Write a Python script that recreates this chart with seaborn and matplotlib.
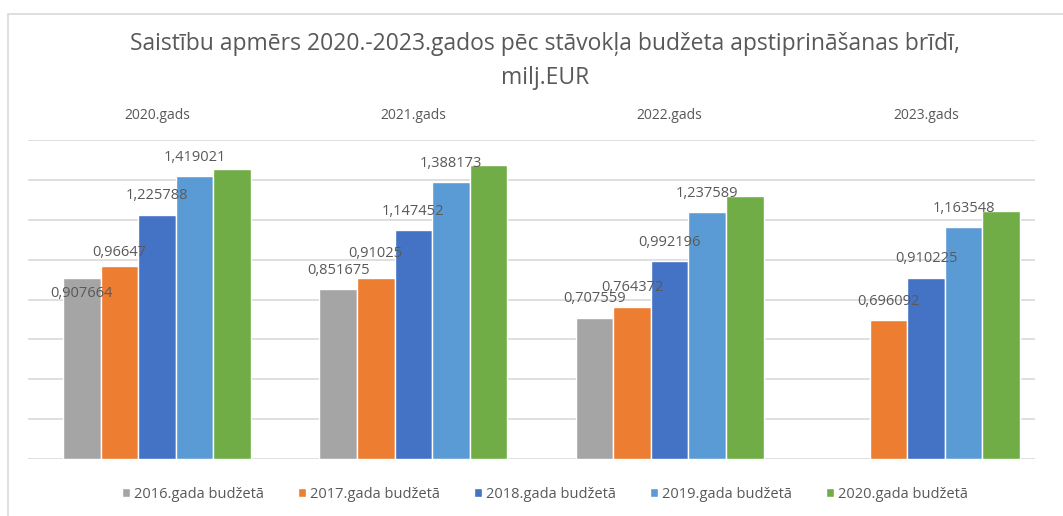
import numpy as np
import pandas as pd
import matplotlib
matplotlib.use("Agg")
import matplotlib.pyplot as plt
from matplotlib.patches import Rectangle
import seaborn as sns

# chart data (milj. EUR)
years = ["2020.gads", "2021.gads", "2022.gads", "2023.gads"]
budgets = ["2016.gada budžetā", "2017.gada budžetā", "2018.gada budžetā",
           "2019.gada budžetā", "2020.gada budžetā"]
b2016 = [0.907664, 0.851675, 0.707559, np.nan]
b2017 = [0.96647, 0.91025, 0.764372, 0.696092]
b2018 = [1.225788, 1.147452, 0.992196, 0.910225]
b2019 = [1.419021, 1.388173, 1.237589, 1.163548]
b2020 = [1.453, 1.473, 1.319, 1.244]   # no labels in the original, estimated
colors = ["#A5A5A5", "#ED7D31", "#4472C4", "#5B9BD5", "#70AD47"]

title = "Saistību apmērs 2020.-2023.gados pēc stāvokļa budžeta apstiprināšanas brīdī,\nmilj.EUR"

series = [b2016, b2017, b2018, b2019, b2020]
rows = []
for name, vals in zip(budgets, series):
    for yr, v in zip(years, vals):
        rows.append({"gads": yr, "budzets": name, "vertiba": v})
df = pd.DataFrame(rows)

sns.set_style("white")
plt.rcParams["font.family"] = ["Open Sans", "DejaVu Sans"]
txt = "#595959"
grid = "#D9D9D9"

fig = plt.figure(figsize=(10.63, 5.16), dpi=100)
ax = fig.add_axes([28 / 1063, 1 - 459 / 516, 1007 / 1063, 319 / 516])

sns.barplot(data=df, x="gads", y="vertiba", hue="budzets", hue_order=budgets,
            order=years, palette=colors, saturation=1, width=0.733, ax=ax)

ax.set_xlim(-0.503, 3.425)
ax.set_ylim(0, 1.6)
ax.set_yticks(np.arange(0, 1.61, 0.2))
ax.set_yticklabels([])
ax.tick_params(axis="y", length=0)
ax.yaxis.grid(True, color=grid, lw=1.2)
ax.set_axisbelow(True)
for s in ax.spines.values():
    s.set_visible(False)
ax.set_xlabel("")
ax.set_ylabel("")
ax.xaxis.tick_top()
ax.tick_params(axis="x", length=0, pad=12, labelsize=10, labelcolor=txt)

# data labels (green series is unlabelled), a few nudged like in the original
nudge = {(0, 0): -34, (1, 0): -5, (1, 1): 5}
for si, cont in enumerate(ax.containers[:4]):
    for bar in cont:
        h = bar.get_height()
        if not np.isfinite(h) or h == 0:
            continue
        xc = bar.get_x() + bar.get_width() / 2
        ci = int(round(xc))
        off = 19 + nudge.get((si, ci), 0)
        ax.annotate(str(h).replace(".", ","), (xc, h), xytext=(0, off * 0.72),
                    textcoords="offset points", ha="center", va="center",
                    fontsize=10.5, color=txt)

handles, labels = ax.get_legend_handles_labels()
ax.legend_.remove()
fig.legend(handles, labels, loc="center", bbox_to_anchor=(545 / 1063, 1 - 494 / 516),
           ncol=5, frameon=False, fontsize=10.5, labelcolor=txt,
           handlelength=0.55, handleheight=0.55, handletextpad=0.3, columnspacing=2.3)

fig.text(545 / 1063, 1 - 61 / 516, title, ha="center", va="center",
         fontsize=16.5, color=txt, linespacing=1.55)

# light chart border (top and left edge visible in the screenshot)
fig.add_artist(Rectangle((8 / 1063, -0.2), 1.2, 1.2 - 14 / 516, transform=fig.transFigure,
                         fill=False, edgecolor=grid, lw=1.2))

fig.savefig("out.png", dpi=100)
